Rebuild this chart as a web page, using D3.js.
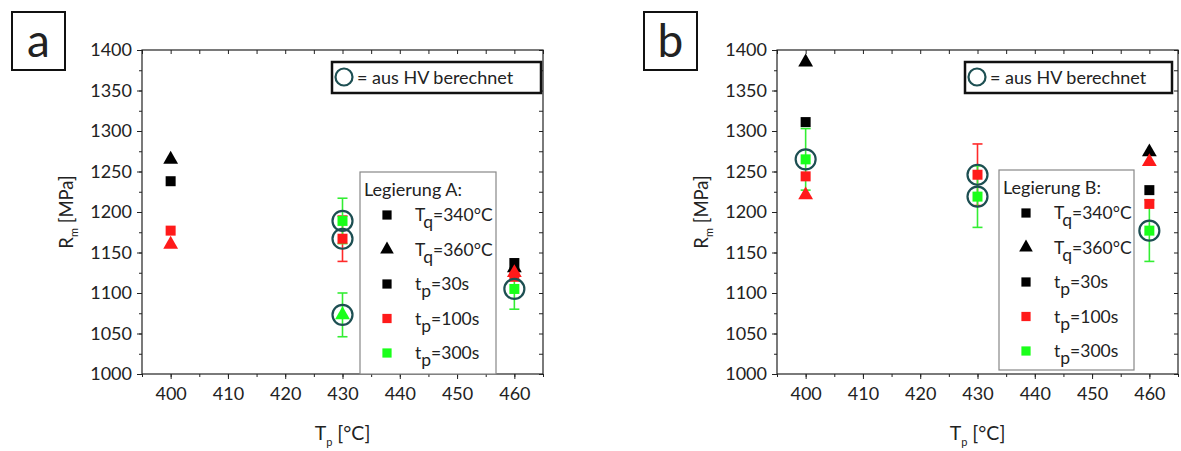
<!DOCTYPE html>
<html>
<head>
<meta charset="utf-8">
<script src="https://cdn.jsdelivr.net/npm/d3@7"></script>
<style>
  html, body { margin: 0; padding: 0; background: #fff; }
  svg { display: block; }
  text { font-family: Lato, "Open Sans", sans-serif; fill: #222; }
</style>
</head>
<body>
<svg id="chart" width="1181" height="451"></svg>
<script>
// ---- data ----------------------------------------------------------
const yTicks = [1000, 1050, 1100, 1150, 1200, 1250, 1300, 1350, 1400];
const xTicks = [400, 410, 420, 430, 440, 450, 460];
const tpLevels = [30, 100, 300];      // holding time t_p [s]
const tqLevels = [340, 360];          // quench temperature T_q [°C]

// Legierung A
const aTemp = [400, 400, 400, 400, 430, 430, 430, 460, 460, 460, 460, 460];
const aTq   = [340, 360, 340, 360, 340, 340, 360, 340, 360, 360, 340, 340];
const aTp   = [30, 30, 100, 100, 100, 300, 300, 30, 30, 100, 100, 300];
const aRm   = [1238, 1265, 1177, 1160, 1167, 1189, 1073, 1137, 1131, 1125, 1120, 1105];
const aErr  = [0, 0, 0, 0, 28, 28, 27, 0, 0, 0, 0, 25];
const aHV   = [0, 0, 0, 0, 1, 1, 1, 0, 0, 0, 0, 1];

// Legierung B
const bTemp = [400, 400, 400, 400, 400, 430, 430, 460, 460, 460, 460, 460];
const bTq   = [360, 340, 360, 340, 340, 340, 340, 360, 360, 340, 340, 340];
const bTp   = [30, 30, 100, 100, 300, 100, 300, 30, 100, 30, 100, 300];
const bRm   = [1385, 1311, 1221, 1244, 1265, 1246, 1219, 1274, 1262, 1227, 1210, 1177];
const bErr  = [0, 0, 0, 0, 38, 38, 38, 0, 0, 0, 0, 38];
const bHV   = [0, 0, 0, 0, 1, 1, 1, 0, 0, 0, 0, 1];

// ---- styling -------------------------------------------------------
const tpColor = d3.scaleOrdinal().domain(tpLevels).range(["#000000", "#ff1a1a", "#1aff1a"]);
const errColor = d3.scaleOrdinal().domain(tpLevels).range(["#000000", "#ff2a2a", "#33ee33"]);
const tqSymbol = d3.scaleOrdinal().domain(tqLevels).range([d3.symbolSquare, d3.symbolTriangle]);
const tqSize = d3.scaleOrdinal().domain(tqLevels).range([100, 95]);
const hvStroke = "#1d4f52";
const tickFont = 18;

const svg = d3.select("#chart");

function makePoints(temp, tq, tp, rm, err, hv) {
  return temp.map((t, i) => ({ t, tq: tq[i], tp: tp[i], rm: rm[i], err: err[i], hv: hv[i] }));
}

function subText(sel, base, sub, rest, subSize, shift) {
  sel.append("tspan").text(base);
  sel.append("tspan").attr("font-size", subSize).attr("dy", shift).text(sub);
  sel.append("tspan").attr("dy", -shift).text(rest);
}

function drawPanel(cfg, points) {
  const g = svg.append("g");
  const x = d3.scaleLinear().domain([395, 465]).range([cfg.left, cfg.right]);
  const y = d3.scaleLinear().domain([1000, 1400]).range([cfg.bottom, cfg.top]);

  // panel letter box
  g.append("rect").attr("x", cfg.labelX).attr("y", 12).attr("width", 53).attr("height", 58)
    .attr("fill", "none").attr("stroke", "#111").attr("stroke-width", 2);
  g.append("text").attr("x", cfg.labelX + 26.5).attr("y", 57).attr("text-anchor", "middle")
    .attr("font-size", 46).attr("fill", "#111").text(cfg.letter);

  const minorY = d3.range(1000, 1401, 25);
  const minorX = d3.range(395, 466, 5);

  // left axis (outward ticks)
  const left = g.append("g").attr("transform", `translate(${cfg.left},0)`);
  left.call(d3.axisLeft(y).tickValues(minorY).tickSize(3).tickFormat(""));
  left.call(g2 => g2.select(".domain").remove());
  const leftMajor = g.append("g").attr("transform", `translate(${cfg.left},0)`)
    .call(d3.axisLeft(y).tickValues(yTicks).tickSize(5).tickPadding(5).tickFormat(d3.format("d")));
  leftMajor.select(".domain").remove();
  leftMajor.selectAll("text").attr("font-size", tickFont).attr("font-family", "Lato, sans-serif").attr("fill", "#222");

  // bottom axis (outward ticks)
  const bottomMinor = g.append("g").attr("transform", `translate(0,${cfg.bottom})`)
    .call(d3.axisBottom(x).tickValues(minorX).tickSize(3).tickFormat(""));
  bottomMinor.select(".domain").remove();
  const bottom = g.append("g").attr("transform", `translate(0,${cfg.bottom})`)
    .call(d3.axisBottom(x).tickValues(xTicks).tickSize(5).tickPadding(8).tickFormat(d3.format("d")));
  bottom.select(".domain").remove();
  bottom.selectAll("text").attr("font-size", tickFont).attr("font-family", "Lato, sans-serif").attr("fill", "#222");

  // top and right axes (inward ticks)
  const top = g.append("g").attr("transform", `translate(0,${cfg.top})`)
    .call(d3.axisBottom(x).tickValues(minorX).tickSize(4).tickFormat(""));
  top.select(".domain").remove();
  const right = g.append("g").attr("transform", `translate(${cfg.right},0)`)
    .call(d3.axisLeft(y).tickValues(minorY).tickSize(4).tickFormat(""));
  right.select(".domain").remove();

  g.selectAll(".tick line").attr("stroke", "#222");

  // frame
  g.append("rect").attr("x", cfg.left).attr("y", cfg.top)
    .attr("width", cfg.right - cfg.left).attr("height", cfg.bottom - cfg.top)
    .attr("fill", "none").attr("stroke", "#222").attr("stroke-width", 1.2);

  // axis titles
  const yl = g.append("text")
    .attr("transform", `translate(${cfg.left - 69},${(cfg.top + cfg.bottom) / 2}) rotate(-90)`)
    .attr("text-anchor", "middle").attr("font-size", 18.5);
  subText(yl, "R", "m", " [MPa]", 11, 5);
  const xl = g.append("text")
    .attr("x", (cfg.left + cfg.right) / 2).attr("y", cfg.bottom + 66)
    .attr("text-anchor", "middle").attr("font-size", 19.5);
  subText(xl, "T", "p", " [°C]", 11, 6);

  // HV annotation box
  g.append("rect").attr("x", cfg.noteX).attr("y", 62).attr("width", cfg.noteW).attr("height", 31)
    .attr("fill", "#fff").attr("stroke", "#111").attr("stroke-width", 2.5);
  g.append("circle").attr("cx", cfg.noteX + 12).attr("cy", 77).attr("r", 8.5)
    .attr("fill", "none").attr("stroke", hvStroke).attr("stroke-width", 2.2);
  g.append("text").attr("x", cfg.noteX + 25).attr("y", 83.5).attr("font-size", 18)
    .text("= aus HV berechnet");

  // legend
  const lg = g.append("g");
  lg.append("rect").attr("x", cfg.legX).attr("y", cfg.legTop).attr("width", cfg.legW)
    .attr("height", cfg.legBottom - cfg.legTop)
    .attr("fill", "#fff").attr("stroke", "#888").attr("stroke-width", 1.2);
  lg.append("text").attr("x", cfg.legX + 4).attr("y", cfg.legTop + 24).attr("font-size", 18)
    .text(cfg.legTitle);
  const legRows = [
    { tq: 340, tp: 30, base: "T", sub: "q", rest: "=340°C" },
    { tq: 360, tp: 30, base: "T", sub: "q", rest: "=360°C" },
    { tq: 340, tp: 30, base: "t", sub: "p", rest: "=30s" },
    { tq: 340, tp: 100, base: "t", sub: "p", rest: "=100s" },
    { tq: 340, tp: 300, base: "t", sub: "p", rest: "=300s" }
  ];
  legRows.forEach((r, i) => {
    const cy = cfg.legTop + 43 + i * 34.5;
    lg.append("path")
      .attr("d", d3.symbol().type(tqSymbol(r.tq)).size(tqSize(r.tq) * 0.85)())
      .attr("transform", `translate(${cfg.legX + 27},${cy})`)
      .attr("fill", tpColor(r.tp));
    const t = lg.append("text").attr("x", cfg.legX + 55).attr("y", cy + 6).attr("font-size", 17.5);
    subText(t, r.base, r.sub, r.rest, 17.5, 7);
  });

  // error bars
  const withErr = points.filter(p => p.err > 0);
  const eb = g.append("g").selectAll("g").data(withErr).join("g")
    .attr("stroke", p => errColor(p.tp)).attr("stroke-width", 1.6);
  eb.append("line").attr("x1", p => x(p.t)).attr("x2", p => x(p.t))
    .attr("y1", p => y(p.rm - p.err)).attr("y2", p => y(p.rm + p.err));
  eb.append("line").attr("x1", p => x(p.t) - 5).attr("x2", p => x(p.t) + 5)
    .attr("y1", p => y(p.rm + p.err)).attr("y2", p => y(p.rm + p.err));
  eb.append("line").attr("x1", p => x(p.t) - 5).attr("x2", p => x(p.t) + 5)
    .attr("y1", p => y(p.rm - p.err)).attr("y2", p => y(p.rm - p.err));

  // markers: black first, then red, then green on top
  const order = p => tpLevels.indexOf(p.tp);
  const sorted = points.slice().sort((a, b) => order(a) - order(b));
  g.append("g").selectAll("path").data(sorted).join("path")
    .attr("d", p => d3.symbol().type(tqSymbol(p.tq)).size(tqSize(p.tq))())
    .attr("transform", p => `translate(${x(p.t)},${y(p.rm)})`)
    .attr("fill", p => tpColor(p.tp));

  // hardness-derived values
  g.append("g").selectAll("circle").data(points.filter(p => p.hv)).join("circle")
    .attr("cx", p => x(p.t)).attr("cy", p => y(p.rm)).attr("r", 10)
    .attr("fill", "none").attr("stroke", hvStroke).attr("stroke-width", 2.2);
}

drawPanel({
  letter: "a", labelX: 12, left: 142, right: 543, top: 50, bottom: 374,
  noteX: 332, noteW: 209, legX: 360, legW: 136, legTop: 172, legBottom: 374,
  legTitle: "Legierung A:"
}, makePoints(aTemp, aTq, aTp, aRm, aErr, aHV));

drawPanel({
  letter: "b", labelX: 644, left: 777, right: 1178, top: 50, bottom: 374,
  noteX: 965, noteW: 207, legX: 999, legW: 135, legTop: 170, legBottom: 370,
  legTitle: "Legierung B:"
}, makePoints(bTemp, bTq, bTp, bRm, bErr, bHV));
</script>
</body>
</html>
